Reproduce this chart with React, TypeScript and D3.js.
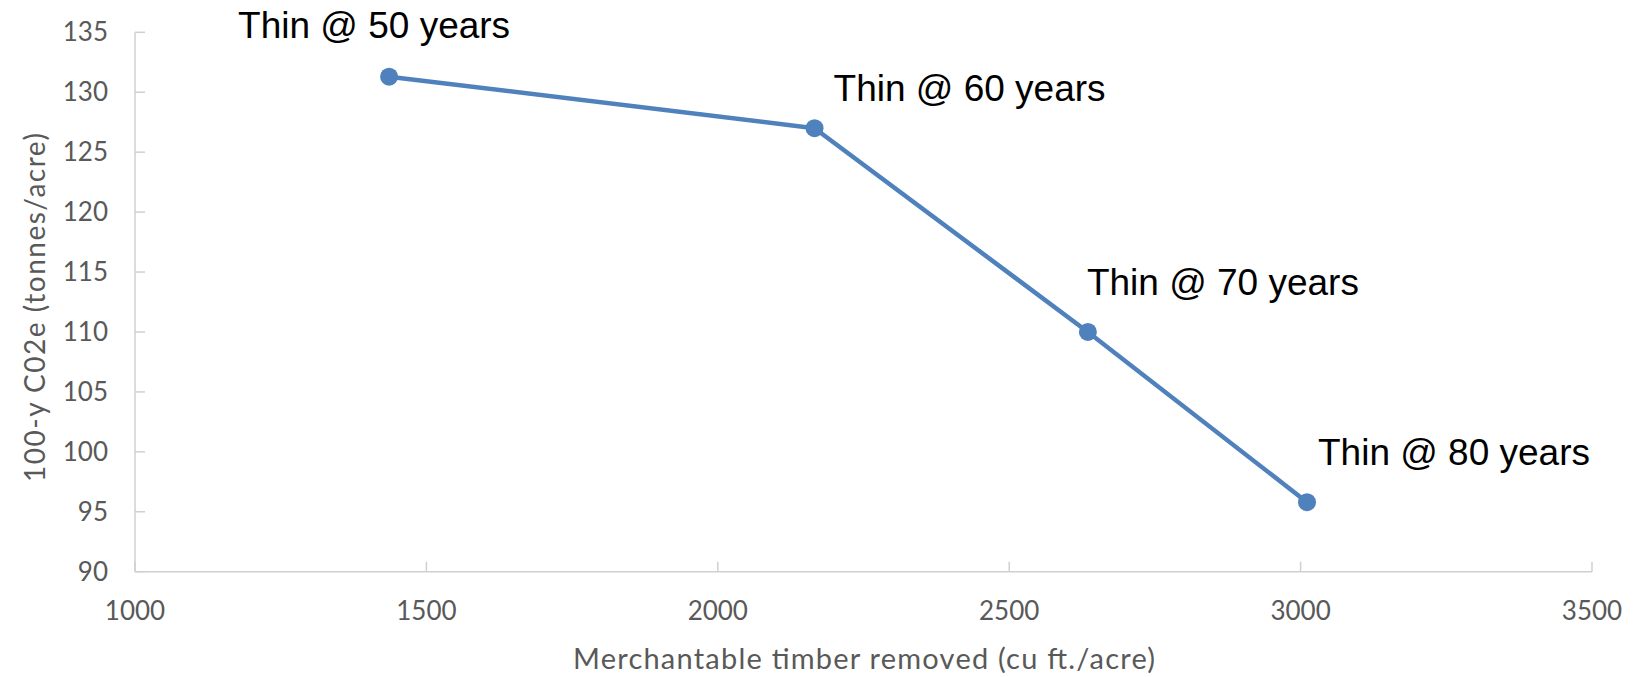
import React, { useEffect, useRef } from "react";
import * as d3 from "d3";

const timberRemoved = [1436, 2166, 2635, 3011];
const co2e = [131.3, 127.0, 110.0, 95.8];
const pointLabels = ["Thin @ 50 years", "Thin @ 60 years", "Thin @ 70 years", "Thin @ 80 years"];
const labelOffsets = [
  [-151, -39],
  [19, -27],
  [-1, -37],
  [11, -37],
];
const xTicks = [1000, 1500, 2000, 2500, 3000, 3500];
const yTicks = [90, 95, 100, 105, 110, 115, 120, 125, 130, 135];
const xTitle = "Merchantable timber removed (cu ft./acre)";
const yTitle = "100-y C02e (tonnes/acre)";

const W = 1635;
const H = 677;
const left = 135;
const right = 1592;
const top = 32.3;
const bottom = 571.7;
const axisColor = "#d0d0d0";
const tickText = "#595959";
const lineColor = "#4f81bd";
const axisFont = "Lato, 'Open Sans', sans-serif";
const labelFont = "'Liberation Sans', Arial, sans-serif";

export default function App() {
  const ref = useRef<SVGSVGElement>(null);
  useEffect(() => {
    document.body.style.margin = "0";
    const svg = d3.select(ref.current);
    svg.selectAll("*").remove();
    const x = d3.scaleLinear().domain([1000, 3500]).range([left, right]);
    const y = d3.scaleLinear().domain([90, 135]).range([bottom, top]);

    // axes lines
    svg.append("line").attr("x1", left).attr("x2", left).attr("y1", y(135)).attr("y2", y(90))
      .attr("stroke", axisColor).attr("stroke-width", 1.5);
    svg.append("line").attr("x1", left).attr("x2", x(3500)).attr("y1", bottom).attr("y2", bottom)
      .attr("stroke", axisColor).attr("stroke-width", 1.5);

    // y ticks
    const yg = svg.append("g");
    yTicks.forEach((t) => {
      yg.append("line").attr("x1", left).attr("x2", left + 10).attr("y1", y(t)).attr("y2", y(t))
        .attr("stroke", axisColor).attr("stroke-width", 1.5);
      yg.append("text").attr("x", 108).attr("y", y(t)).attr("dy", "0.35em")
        .attr("text-anchor", "end").attr("font-family", axisFont).attr("font-size", 26)
        .attr("fill", tickText).text(String(t));
    });
    // x ticks
    const xg = svg.append("g");
    xTicks.forEach((t) => {
      xg.append("line").attr("x1", x(t)).attr("x2", x(t)).attr("y1", bottom).attr("y2", bottom - 10)
        .attr("stroke", axisColor).attr("stroke-width", 1.5);
      xg.append("text").attr("x", x(t)).attr("y", 620)
        .attr("text-anchor", "middle").attr("font-family", axisFont).attr("font-size", 26)
        .attr("fill", tickText).text(String(t));
    });

    // titles
    svg.append("text").attr("x", 573).attr("y", 669)
      .attr("font-family", axisFont).attr("font-size", 29).attr("fill", tickText)
      .attr("textLength", 582).attr("lengthAdjust", "spacing").text(xTitle);
    svg.append("text").attr("transform", "translate(45,482) rotate(-90)")
      .attr("font-family", axisFont).attr("font-size", 28).attr("fill", tickText)
      .attr("textLength", 349).attr("lengthAdjust", "spacing").text(yTitle);

    const data = timberRemoved.map((v, i) => ({ x: v, y: co2e[i], label: pointLabels[i], off: labelOffsets[i] }));
    const line = d3.line<any>().x((d) => x(d.x)).y((d) => y(d.y));
    svg.append("path").datum(data).attr("d", line).attr("fill", "none")
      .attr("stroke", lineColor).attr("stroke-width", 4.5).attr("stroke-linejoin", "round");
    svg.selectAll("circle.pt").data(data).enter().append("circle").attr("class", "pt")
      .attr("cx", (d) => x(d.x)).attr("cy", (d) => y(d.y)).attr("r", 9).attr("fill", lineColor);
    svg.selectAll("text.lbl").data(data).enter().append("text").attr("class", "lbl")
      .attr("x", (d) => x(d.x) + d.off[0]).attr("y", (d) => y(d.y) + d.off[1])
      .attr("font-family", labelFont).attr("font-size", 37).attr("fill", "#000").text((d) => d.label);
  }, []);
  return (
    <svg ref={ref} width={W} height={H} style={{ position: "absolute", left: 0, top: 0, background: "#fff" }} />
  );
}
